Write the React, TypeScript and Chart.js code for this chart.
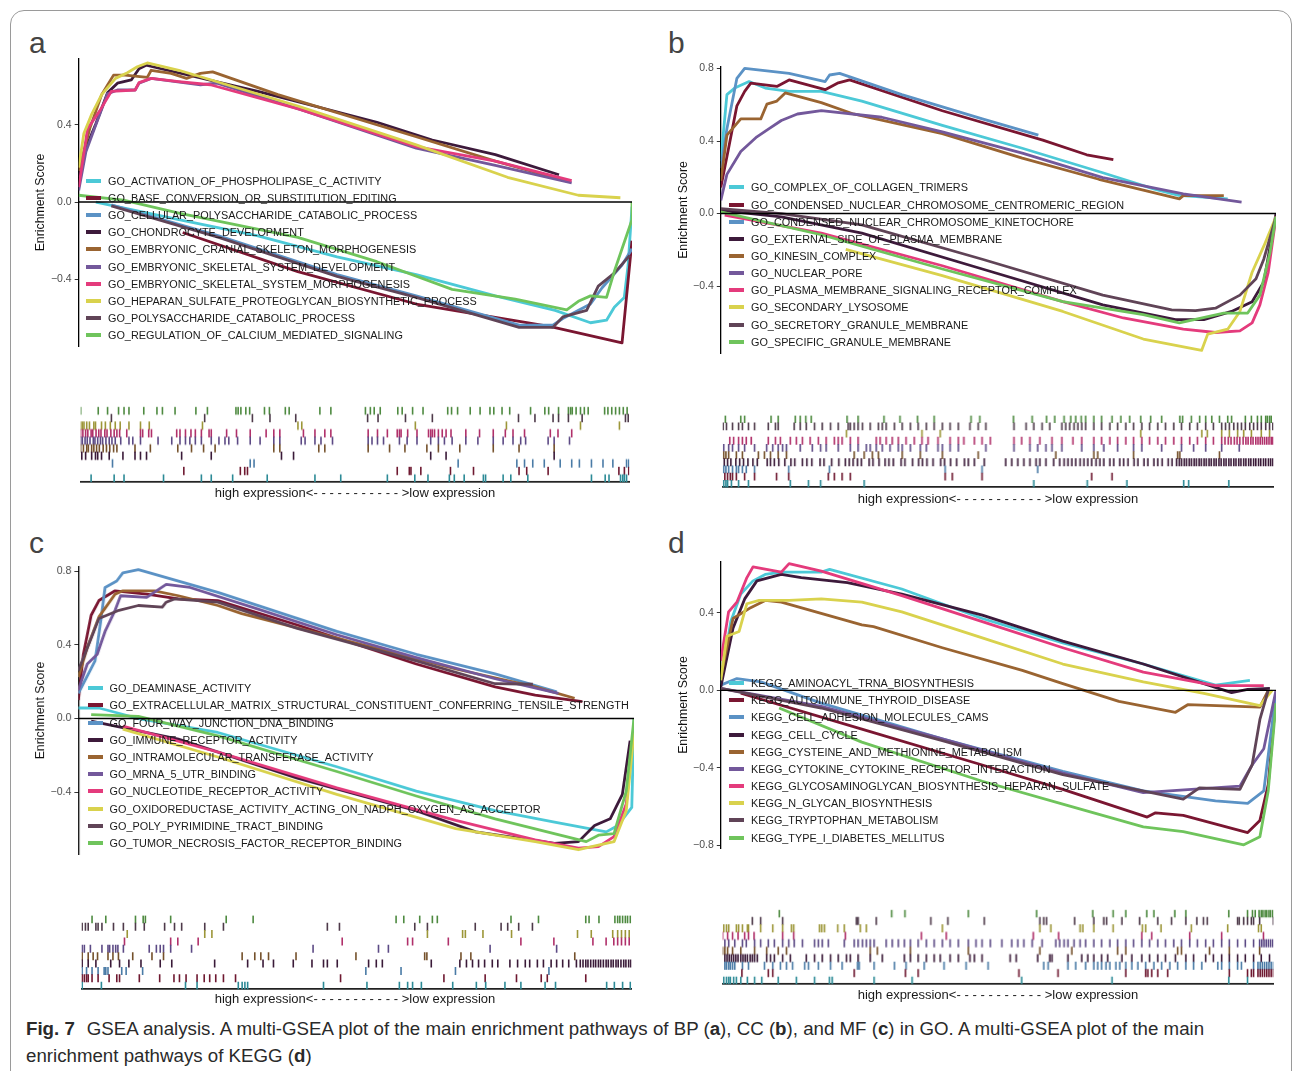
import React, { useEffect, useRef } from 'react';
import { Chart, registerables } from 'chart.js';
Chart.register(...registerables);

const FONT = "'Liberation Sans', Arial, Helvetica, sans-serif";

const LINE_COLORS = ['#4CC9D7', '#7A1631', '#5B92C5', '#3D1A3B', '#9A6431', '#73589B', '#E43B7C', '#D9D24D', '#604457', '#6FC45C'];
const RUG_COLORS = ['#2C8A96', '#6E1830', '#4A7BA6', '#3A1A38', '#74502A', '#5C4A85', '#B0306A', '#9C9638', '#4E3A4A', '#4E8A40'];

// ---------------- Panel a (BP) ----------------
const A_NAMES = [
  'GO_ACTIVATION_OF_PHOSPHOLIPASE_C_ACTIVITY',
  'GO_BASE_CONVERSION_OR_SUBSTITUTION_EDITING',
  'GO_CELLULAR_POLYSACCHARIDE_CATABOLIC_PROCESS',
  'GO_CHONDROCYTE_DEVELOPMENT',
  'GO_EMBRYONIC_CRANIAL_SKELETON_MORPHOGENESIS',
  'GO_EMBRYONIC_SKELETAL_SYSTEM_DEVELOPMENT',
  'GO_EMBRYONIC_SKELETAL_SYSTEM_MORPHOGENESIS',
  'GO_HEPARAN_SULFATE_PROTEOGLYCAN_BIOSYNTHETIC_PROCESS',
  'GO_POLYSACCHARIDE_CATABOLIC_PROCESS',
  'GO_REGULATION_OF_CALCIUM_MEDIATED_SIGNALING',
];
const A_ACTIVATION = [[3.1, 0], [18.1, -0.091], [32.4, -0.175], [46.7, -0.284], [61.0, -0.376], [75.3, -0.486], [86.1, -0.561], [92.5, -0.625], [95.4, -0.612], [96.8, -0.545], [98.6, -0.494], [99.3, -0.326], [100, -0.024]];
const A_BASE = [[18.8, -0.158], [39.6, -0.36], [61.0, -0.528], [85.3, -0.645], [98.2, -0.729], [100, -0.2]];
const A_CELLULAR = [[5.9, -0.015], [25.3, -0.175], [46.7, -0.376], [61.0, -0.486], [79.6, -0.637], [85.7, -0.637], [87.5, -0.603], [92.5, -0.528], [94.6, -0.444], [98.2, -0.326], [100, -0.242]];
const A_CHONDRO = [[0, 0.128], [1.3, 0.279], [3.1, 0.405], [5.2, 0.565], [7.0, 0.615], [9.5, 0.632], [10.9, 0.69], [12.2, 0.708], [32.4, 0.573], [53.9, 0.413], [63.9, 0.321], [75.3, 0.245], [86.8, 0.141]];
const A_CRANIAL = [[0, 0.161], [2.0, 0.38], [4.15, 0.556], [6.3, 0.657], [8.4, 0.657], [12.4, 0.645], [13.1, 0.682], [16.7, 0.666], [19.5, 0.64], [22.0, 0.666], [24.2, 0.674], [36.0, 0.556], [61.0, 0.338], [75.3, 0.212], [88.6, 0.106]];
const A_SKEL_DEV = [[0, 0.06], [1.3, 0.26], [3.1, 0.4], [5.2, 0.56], [7.0, 0.58], [10.2, 0.58], [10.9, 0.615], [13.1, 0.64], [22.0, 0.607], [25.0, 0.615], [40.0, 0.48], [61.0, 0.279], [75.3, 0.19], [89.1, 0.099]];
const A_SKEL_MORPH = [[0, 0.077], [1.6, 0.38], [3.8, 0.472], [5.9, 0.573], [10.2, 0.58], [10.9, 0.618], [13.1, 0.64], [18.1, 0.623], [23.8, 0.607], [40.0, 0.48], [61.0, 0.287], [75.3, 0.212], [89.1, 0.111]];
const A_HEPARAN = [[0, 0.178], [0.93, 0.355], [2.36, 0.455], [4.15, 0.556], [6.65, 0.64], [8.8, 0.669], [10.6, 0.7], [12.4, 0.72], [18.1, 0.682], [39.6, 0.497], [61.0, 0.296], [77.5, 0.128], [90.3, 0.035], [97.9, 0.022]];
const A_POLYSACCH = [[5.9, -0.02], [25.3, -0.183], [46.7, -0.385], [61.0, -0.494], [79.6, -0.649], [85.7, -0.649], [87.5, -0.595], [91.8, -0.561], [93.9, -0.435], [96.8, -0.368], [99.6, -0.276]];
const A_CALCIUM = [[0, 0.035], [8.1, 0.01], [18.1, -0.057], [39.6, -0.183], [53.9, -0.309], [67.5, -0.452], [78.9, -0.503], [88.2, -0.558], [90.3, -0.514], [92.5, -0.486], [95.4, -0.494], [96.8, -0.36], [98.2, -0.242], [100, -0.091], [100, 0]];
const A_SERIES = [A_ACTIVATION, A_BASE, A_CELLULAR, A_CHONDRO, A_CRANIAL, A_SKEL_DEV, A_SKEL_MORPH, A_HEPARAN, A_POLYSACCH, A_CALCIUM];

const A_RUG = [
  [1.9, 6.1, 7.9, 15.1, 22.0, 23.8, 27.7, 34.0, 42.7, 47.4, 55.9, 60.9, 63.3, 67.2, 68.1, 69.9, 73.4, 73.8, 77.0, 78.4, 81.5, 93.1, 95.6, 96.3, 98.4, 98.8, 99.1, 99.5],
  [18.8, 29.1, 29.9, 30.4, 57.7, 59.9, 60.2, 62.0, 67.4, 71.6, 79.9, 81.3, 85.2, 98.1, 99.1, 99.9],
  [5.8, 30.9, 31.6, 68.8, 79.5, 80.9, 82.4, 84.5, 87.4, 89.5, 90.9, 93.1, 95.2, 97.0, 99.5, 99.9],
  [0.2, 0.9, 2.0, 2.7, 3.1, 3.8, 5.2, 7.7, 9.9, 10.9, 12.0, 18.4, 23.8, 36.6, 38.8, 63.8, 66.6, 86.3],
  [0, 0.5, 1.1, 1.4, 2.0, 2.4, 2.9, 3.4, 4.1, 4.7, 5.3, 6.0, 6.6, 9.9, 12.7, 17.7, 20.2, 22.4, 24.5, 35.2, 36.3, 43.4, 44.5, 52.4, 56.3, 59.1, 63.1, 65.2, 69.1, 75.2, 79.9, 86.3],
  [0, 0.3, 0.8, 1.2, 1.7, 2.3, 2.6, 3.1, 3.6, 4.0, 4.6, 5.2, 5.7, 6.3, 7.3, 8.8, 9.5, 10.9, 14.1, 16.6, 18.1, 19.1, 19.9, 20.9, 22.0, 23.8, 25.2, 26.3, 27.0, 28.6, 30.9, 32.7, 35.2, 36.3, 40.2, 40.9, 42.7, 43.8, 45.9, 52.4, 53.1, 54.1, 55.2, 58.1, 59.5, 61.3, 63.8, 65.2, 66.3, 67.7, 70.2, 72.4, 75.2, 77.0, 78.8, 80.2, 81.1, 85.2, 86.3, 89.1],
  [0, 0.4, 0.9, 1.3, 1.9, 2.2, 2.8, 3.3, 3.7, 4.4, 4.8, 5.5, 6.1, 6.6, 7.1, 8.4, 10.9, 11.3, 12.4, 12.9, 17.5, 18.1, 19.1, 20.1, 20.9, 22.0, 23.4, 23.8, 26.6, 28.4, 30.9, 33.8, 35.2, 36.3, 40.6, 42.7, 44.5, 45.6, 52.4, 54.1, 55.9, 57.7, 58.1, 58.4, 59.6, 61.3, 63.4, 63.8, 64.1, 64.5, 65.2, 65.9, 66.6, 67.5, 70.2, 72.7, 75.2, 77.4, 78.8, 80.9, 85.6, 87.0, 89.5],
  [0, 0.3, 0.6, 1.1, 1.6, 2.4, 2.7, 3.8, 4.5, 5.4, 6.3, 7.2, 8.8, 10.9, 12.5, 22.2, 39.6, 40.3, 61.0, 77.6, 91.1, 98.2],
  [5.6, 22.6, 31.3, 34.5, 39.2, 52.3, 54.2, 59.2, 64.1, 79.8, 82.8, 86.1, 87.1, 88.9, 91.4, 99.3, 99.8],
  [0, 3.2, 4.9, 6.9, 7.9, 8.8, 11.5, 13.9, 14.9, 17.2, 21.0, 23.1, 28.3, 28.7, 29.2, 30.1, 30.8, 33.5, 34.4, 37.3, 38.0, 43.6, 45.6, 51.9, 52.8, 53.5, 54.6, 57.8, 58.6, 60.5, 62.4, 66.9, 67.6, 68.7, 71.0, 72.8, 74.6, 75.3, 76.8, 78.2, 82.0, 84.6, 85.3, 87.1, 88.9, 89.3, 89.6, 90.3, 91.1, 91.8, 92.5, 95.5, 96.1, 96.8, 97.5, 98.2, 98.9, 99.6],
];

// ---------------- Panel b (CC) ----------------
const B_NAMES = [
  'GO_COMPLEX_OF_COLLAGEN_TRIMERS',
  'GO_CONDENSED_NUCLEAR_CHROMOSOME_CENTROMERIC_REGION',
  'GO_CONDENSED_NUCLEAR_CHROMOSOME_KINETOCHORE',
  'GO_EXTERNAL_SIDE_OF_PLASMA_MEMBRANE',
  'GO_KINESIN_COMPLEX',
  'GO_NUCLEAR_PORE',
  'GO_PLASMA_MEMBRANE_SIGNALING_RECEPTOR_COMPLEX',
  'GO_SECONDARY_LYSOSOME',
  'GO_SECRETORY_GRANULE_MEMBRANE',
  'GO_SPECIFIC_GRANULE_MEMBRANE',
];
const B_COLLAGEN = [[0, 0.288], [1.1, 0.656], [2.5, 0.692], [5.1, 0.728], [8.0, 0.692], [12.3, 0.674], [18.1, 0.674], [25.4, 0.62], [39.9, 0.486], [54.3, 0.36], [68.8, 0.225], [78.1, 0.135], [82.5, 0.1], [91.3, 0.081]];
const B_CENTROMERIC = [[0, 0.144], [1.4, 0.36], [2.9, 0.594], [4.3, 0.674], [5.4, 0.719], [10.1, 0.701], [12.3, 0.737], [18.8, 0.683], [21.0, 0.719], [23.2, 0.737], [39.9, 0.567], [58.0, 0.405], [65.9, 0.324], [70.7, 0.297]];
const B_KINETOCHORE = [[0, 0.25], [1.1, 0.468], [2.9, 0.746], [4.3, 0.8], [12.3, 0.773], [18.8, 0.728], [19.6, 0.764], [21.4, 0.773], [32.6, 0.656], [47.1, 0.522], [57.2, 0.432]];
const B_EXTERNAL = [[0, 0.018], [10.9, -0.018], [25.4, -0.108], [47.1, -0.306], [68.8, -0.504], [81.9, -0.585], [87.0, -0.585], [92.0, -0.54], [95.7, -0.486], [97.8, -0.378], [100, 0]];
const B_KINESIN = [[0, 0.18], [1.1, 0.432], [3.6, 0.522], [7.2, 0.522], [8.3, 0.603], [10.1, 0.62], [11.6, 0.665], [18.1, 0.612], [23.9, 0.549], [39.9, 0.441], [54.3, 0.306], [68.1, 0.189], [82.6, 0.081], [83.3, 0.099], [90.6, 0.099]];
const B_PORE = [[0, 0.072], [1.1, 0.216], [3.6, 0.342], [6.5, 0.423], [8.7, 0.468], [10.9, 0.513], [13.8, 0.549], [18.1, 0.567], [29.0, 0.531], [39.9, 0.45], [54.3, 0.333], [68.8, 0.198], [83.3, 0.108], [93.8, 0.063]];
const B_PLASMA = [[0.7, -0.009], [18.1, -0.108], [39.9, -0.288], [61.6, -0.486], [72.5, -0.576], [83.3, -0.638], [89.1, -0.656], [93.5, -0.647], [95.7, -0.603], [97.1, -0.504], [98.6, -0.324], [100, -0.018]];
const B_LYSOSOME = [[22.5, -0.198], [39.9, -0.342], [61.6, -0.54], [76.1, -0.692], [86.6, -0.755], [87.7, -0.665], [91.3, -0.638], [93.5, -0.54], [95.7, -0.324], [97.8, -0.18], [100, -0.018]];
const B_SECRETORY = [[0, 0.027], [10.9, 0], [25.4, -0.063], [47.1, -0.252], [68.8, -0.45], [81.2, -0.531], [85.5, -0.536], [89.1, -0.522], [93.5, -0.45], [96.4, -0.36], [97.8, -0.252], [100, -0.018]];
const B_SPECIFIC = [[0, 0.009], [18.1, -0.117], [39.9, -0.306], [61.6, -0.486], [76.1, -0.558], [82.6, -0.603], [90.6, -0.549], [94.9, -0.549], [97.1, -0.45], [98.9, -0.216], [100, -0.018]];
const B_SERIES = [B_COLLAGEN, B_CENTROMERIC, B_KINETOCHORE, B_EXTERNAL, B_KINESIN, B_PORE, B_PLASMA, B_LYSOSOME, B_SECRETORY, B_SPECIFIC];

const B_RUG = [
  [0.2, 0.6, 0.9, 1.6, 2.9, 4.7, 12.3, 15.6, 17.8, 25.7, 56.5, 66.2, 73.4, 83.7, 84.6, 91.9],
  [0.4, 0.9, 1.4, 1.8, 2.5, 4.0, 5.8, 9.8, 12.0, 19.2, 20.3, 21.7, 23.2, 40.4, 41.7, 47.1, 67.0, 70.7],
  [0.2, 0.6, 1.1, 1.8, 2.5, 2.9, 3.6, 4.3, 5.8, 12.0, 19.4, 40.4, 47.1, 57.2],
  [0.3, 0.9, 1.5, 2.4, 3.1, 3.8, 4.6, 5.5, 6.3, 8.1, 8.7, 9.4, 10.2, 11.3, 12.4, 13.1, 14.5, 15.3, 16.2, 17.7, 18.4, 19.8, 21.1, 22.3, 23.0, 23.7, 24.5, 25.2, 26.6, 27.3, 28.4, 29.5, 30.2, 31.0, 32.4, 33.1, 34.5, 35.6, 36.3, 37.1, 38.2, 39.6, 40.3, 41.4, 42.5, 43.9, 44.6, 45.7, 47.5, 51.4, 52.5, 53.6, 54.7, 55.8, 56.9, 57.6, 58.7, 60.1, 61.2, 62.0, 62.7, 63.4, 64.1, 64.9, 65.6, 66.3, 67.0, 67.8, 68.5, 69.2, 70.3, 71.0, 72.1, 72.8, 73.6, 74.7, 75.4, 76.5, 77.2, 78.3, 79.0, 79.8, 80.9, 81.6, 82.4, 82.9, 83.3, 83.8, 84.2, 84.7, 85.1, 85.6, 86.0, 86.5, 86.9, 87.4, 87.8, 88.3, 88.7, 89.2, 89.6, 90.1, 90.5, 91.0, 91.4, 91.9, 92.3, 92.8, 93.2, 93.7, 94.1, 94.6, 95.0, 95.5, 95.9, 96.4, 96.8, 97.3, 97.7, 98.2, 98.6, 99.1, 99.5, 99.9],
  [0.2, 0.6, 1.1, 2.5, 3.6, 6.5, 7.6, 8.7, 10.1, 11.6, 23.9, 25.7, 27.2, 28.3, 32.6, 35.9, 39.9, 46.4, 60.5, 67.4, 68.1, 74.6, 82.6, 83.0, 90.2],
  [0.2, 1.1, 1.8, 2.9, 4.0, 5.8, 8.0, 9.1, 10.1, 10.9, 11.6, 14.1, 16.3, 17.8, 18.8, 21.0, 23.2, 24.6, 26.1, 26.8, 27.9, 29.0, 30.4, 31.9, 32.6, 34.1, 35.9, 37.0, 39.1, 39.9, 41.3, 42.8, 47.8, 52.9, 55.8, 57.2, 58.7, 59.8, 61.6, 65.2, 67.4, 69.2, 71.7, 74.6, 76.1, 79.7, 83.3, 85.5, 87.7, 90.6, 93.8],
  [1.3, 2.0, 2.9, 3.6, 4.3, 5.2, 8.3, 9.6, 10.5, 12.3, 13.4, 14.5, 15.9, 17.4, 18.8, 20.3, 21.0, 21.7, 23.2, 24.6, 27.9, 28.6, 29.7, 30.8, 31.9, 33.3, 34.8, 36.2, 37.3, 39.1, 41.3, 42.8, 43.8, 45.7, 47.1, 48.6, 52.9, 54.3, 55.8, 57.6, 59.8, 61.6, 63.6, 65.2, 67.4, 68.8, 70.3, 71.7, 73.2, 74.6, 76.1, 77.5, 79.0, 80.4, 81.9, 83.3, 84.8, 86.2, 87.7, 89.1, 90.6, 91.2, 91.8, 92.3, 92.9, 93.4, 93.9, 94.5, 95.0, 95.4, 95.9, 96.3, 96.8, 97.2, 97.6, 98.0, 98.4, 98.8, 99.2, 99.6, 99.9],
  [22.5, 36.2, 39.5, 75.9, 87.0, 88.0, 90.6, 92.0, 93.5, 94.6, 96.0, 97.8, 99.3],
  [0.1, 0.7, 1.8, 2.9, 3.6, 4.7, 5.8, 8.3, 9.6, 10.1, 13.0, 14.1, 15.2, 16.7, 18.1, 19.6, 21.0, 22.8, 23.2, 23.9, 24.6, 25.4, 26.8, 28.3, 29.0, 29.7, 31.2, 32.6, 34.1, 35.5, 37.0, 38.4, 39.9, 41.3, 42.8, 44.9, 46.4, 47.8, 52.9, 55.1, 56.5, 58.0, 59.4, 61.6, 62.3, 63.0, 63.8, 64.5, 65.2, 65.9, 67.4, 68.8, 70.3, 71.7, 73.2, 74.6, 76.1, 77.5, 79.0, 80.4, 81.9, 83.3, 84.8, 86.2, 87.7, 89.1, 90.6, 91.3, 92.0, 92.8, 93.5, 94.2, 94.9, 95.7, 96.4, 97.1, 97.8, 98.6, 99.3, 99.9],
  [0.5, 3.3, 4.0, 8.8, 10.1, 13.2, 14.1, 15.1, 16.1, 22.6, 24.6, 29.3, 32.2, 35.4, 38.4, 45.1, 46.7, 52.8, 56.2, 58.8, 60.3, 62.0, 63.2, 64.1, 65.1, 65.9, 67.4, 68.8, 70.7, 72.3, 73.9, 75.9, 77.7, 79.7, 83.0, 83.5, 85.1, 86.6, 87.7, 88.8, 90.2, 91.7, 92.4, 94.9, 96.0, 97.1, 97.8, 98.6, 98.9, 99.3, 99.6],
];

// ---------------- Panel c (MF) ----------------
const C_NAMES = [
  'GO_DEAMINASE_ACTIVITY',
  'GO_EXTRACELLULAR_MATRIX_STRUCTURAL_CONSTITUENT_CONFERRING_TENSILE_STRENGTH',
  'GO_FOUR_WAY_JUNCTION_DNA_BINDING',
  'GO_IMMUNE_RECEPTOR_ACTIVITY',
  'GO_INTRAMOLECULAR_TRANSFERASE_ACTIVITY',
  'GO_MRNA_5_UTR_BINDING',
  'GO_NUCLEOTIDE_RECEPTOR_ACTIVITY',
  'GO_OXIDOREDUCTASE_ACTIVITY_ACTING_ON_NADPH_OXYGEN_AS_ACCEPTOR',
  'GO_POLY_PYRIMIDINE_TRACT_BINDING',
  'GO_TUMOR_NECROSIS_FACTOR_RECEPTOR_BINDING',
];
const C_DEAMINASE = [[0, 0.057], [3.7, 0.057], [10.8, 0], [25.1, -0.076], [46.5, -0.262], [60.8, -0.395], [75.0, -0.501], [85.7, -0.563], [95.0, -0.616], [97.1, -0.581], [99.6, -0.483], [100, 0]];
const C_ECM = [[0, 0.1], [0.9, 0.349], [2.3, 0.561], [3.7, 0.641], [6.6, 0.694], [12.3, 0.676], [18.0, 0.65], [25.1, 0.641], [39.4, 0.508], [60.8, 0.296], [75.0, 0.172], [82.2, 0.127], [90.7, 0.092]];
const C_FOURWAY = [[0, 0.136], [3.0, 0.313], [4.1, 0.543], [4.8, 0.712], [6.9, 0.747], [8.0, 0.791], [10.8, 0.809], [25.1, 0.685], [46.5, 0.473], [60.8, 0.349], [75.0, 0.242], [86.1, 0.145]];
const C_IMMUNE = [[2.3, -0.014], [18.0, -0.112], [39.4, -0.324], [60.8, -0.501], [71.5, -0.616], [85.7, -0.678], [90.0, -0.669], [92.9, -0.581], [95.7, -0.545], [97.9, -0.412], [99.3, -0.12]];
const C_INTRAMOL = [[0, 0.225], [1.6, 0.384], [3.7, 0.552], [6.6, 0.676], [8.0, 0.694], [13.7, 0.694], [18.0, 0.667], [25.1, 0.614], [29.4, 0.57], [46.5, 0.437], [67.9, 0.269], [82.2, 0.172], [89.3, 0.11]];
const C_MRNA = [[0, 0.154], [1.6, 0.296], [3.4, 0.349], [4.8, 0.473], [6.6, 0.588], [7.6, 0.667], [12.3, 0.658], [15.8, 0.729], [20.1, 0.712], [32.2, 0.596], [46.5, 0.455], [60.8, 0.331], [75.0, 0.216], [86.4, 0.136]];
const C_NUCLEOTIDE = [[8.0, -0.041], [25.1, -0.182], [46.5, -0.377], [67.9, -0.554], [82.2, -0.66], [90.0, -0.704], [93.6, -0.696], [96.4, -0.642], [98.6, -0.465], [100, -0.041]];
const C_OXIDO = [[8.0, -0.058], [25.1, -0.209], [46.5, -0.412], [67.9, -0.598], [82.2, -0.669], [90.0, -0.713], [96.4, -0.669], [98.6, -0.501], [100, -0.076]];
const C_POLYPYR = [[0, 0.26], [3.7, 0.543], [7.3, 0.588], [10.8, 0.614], [15.1, 0.605], [15.8, 0.632], [17.3, 0.65], [25.1, 0.632], [39.4, 0.49], [60.8, 0.313], [75.0, 0.189], [81.8, 0.186]];
const C_TNF = [[2.3, 0.021], [10.8, 0.012], [25.1, -0.094], [46.5, -0.288], [60.8, -0.421], [75.0, -0.545], [91.4, -0.669], [93.6, -0.634], [96.4, -0.625], [98.6, -0.395], [100, 0]];
const C_SERIES = [C_DEAMINASE, C_ECM, C_FOURWAY, C_IMMUNE, C_INTRAMOL, C_MRNA, C_NUCLEOTIDE, C_OXIDO, C_POLYPYR, C_TNF];

const C_RUG = [
  [0.1, 3.6, 18.9, 21.0, 28.5, 29.2, 29.7, 30.2, 44.0, 51.9, 57.8, 59.3, 60.2, 61.8, 67.5, 71.8, 73.5, 77.0, 79.9, 84.3, 86.2, 95.5, 96.9, 98.4, 99.8],
  [0.1, 0.5, 0.9, 1.2, 1.9, 3.0, 5.0, 6.4, 6.9, 10.5, 14.2, 16.8, 17.8, 19.0, 21.0, 22.3, 23.3, 24.4, 25.8, 28.0, 47.1, 65.9, 73.4, 79.1, 83.6, 84.7, 91.7],
  [0.1, 0.9, 1.9, 3.0, 4.1, 4.4, 4.8, 7.3, 8.1, 11.1, 51.7, 58.1, 68.0, 85.0],
  [0.1, 1.2, 2.6, 5.3, 6.9, 8.6, 10.8, 14.3, 16.4, 24.2, 30.2, 33.0, 34.9, 38.5, 41.9, 44.0, 44.7, 46.5, 52.2, 53.6, 54.7, 63.6, 68.8, 70.0, 71.1, 72.2, 73.3, 74.7, 75.7, 77.9, 79.3, 80.7, 81.5, 82.9, 84.0, 85.4, 86.4, 87.5, 88.6, 90.0, 90.7, 91.2, 91.7, 92.1, 92.6, 93.1, 93.5, 94.0, 94.4, 94.9, 95.4, 95.8, 96.3, 96.7, 97.2, 97.6, 98.1, 98.6, 99.0, 99.5, 99.9],
  [0.1, 1.2, 2.1, 2.9, 4.8, 5.7, 6.7, 9.3, 12.8, 14.9, 29.2, 31.5, 32.6, 34.0, 39.0, 49.9, 62.4, 62.8, 69.0, 70.8, 89.7],
  [0.1, 0.5, 1.6, 3.7, 4.8, 5.1, 5.7, 6.2, 6.6, 7.6, 12.3, 13.6, 14.3, 14.9, 16.2, 20.0, 42.1, 54.0, 55.8, 74.3, 86.4],
  [7.8, 16.2, 17.5, 21.2, 47.4, 59.3, 60.2, 66.7, 79.9, 85.9, 93.0, 95.4, 96.8, 97.5, 98.2, 98.9, 99.6],
  [8.3, 22.4, 23.7, 62.9, 69.3, 69.8, 73.0, 78.2, 90.2, 92.7, 96.6, 97.5, 98.2, 98.9, 99.6],
  [0.1, 0.7, 1.2, 2.6, 3.0, 3.7, 5.8, 7.6, 9.8, 11.4, 15.1, 16.9, 18.2, 22.4, 25.8, 44.7, 46.9, 60.6, 62.9, 71.6, 76.3, 77.5, 79.5, 82.0],
  [1.9, 4.4, 9.8, 11.2, 11.6, 16.2, 26.3, 31.2, 57.2, 58.6, 61.5, 63.8, 64.7, 78.1, 83.1, 91.7, 92.3, 94.1, 97.0, 97.5, 97.9, 98.4, 98.9, 99.3, 99.8],
];

// ---------------- Panel d (KEGG) ----------------
const D_NAMES = [
  'KEGG_AMINOACYL_TRNA_BIOSYNTHESIS',
  'KEGG_AUTOIMMUNE_THYROID_DISEASE',
  'KEGG_CELL_ADHESION_MOLECULES_CAMS',
  'KEGG_CELL_CYCLE',
  'KEGG_CYSTEINE_AND_METHIONINE_METABOLISM',
  'KEGG_CYTOKINE_CYTOKINE_RECEPTOR_INTERACTION',
  'KEGG_GLYCOSAMINOGLYCAN_BIOSYNTHESIS_HEPARAN_SULFATE',
  'KEGG_N_GLYCAN_BIOSYNTHESIS',
  'KEGG_TRYPTOPHAN_METABOLISM',
  'KEGG_TYPE_I_DIABETES_MELLITUS',
];
const D_AMINOACYL = [[0, 0.035], [1.8, 0.355], [3.6, 0.497], [5.8, 0.565], [8.0, 0.598], [10.9, 0.61], [18.1, 0.61], [19.6, 0.624], [32.6, 0.523], [47.1, 0.371], [61.6, 0.245], [76.1, 0.136], [89.1, 0.027], [95.3, 0.052]];
const D_AUTOIMMUNE = [[3.6, -0.015], [25.4, -0.2], [47.1, -0.385], [61.6, -0.511], [76.8, -0.654], [78.3, -0.632], [83.3, -0.645], [94.9, -0.734], [97.1, -0.671], [98.6, -0.486], [100, -0.032]];
const D_CAMS = [[0, 0.027], [2.9, 0.061], [7.2, 0.044], [18.1, -0.066], [39.9, -0.25], [61.6, -0.418], [76.1, -0.519], [89.1, -0.57], [94.9, -0.583], [97.8, -0.519], [100, -0.015]];
const D_CELLCYCLE = [[0, 0.018], [2.2, 0.321], [4.3, 0.472], [6.5, 0.565], [8.7, 0.582], [10.9, 0.598], [14.5, 0.582], [22.8, 0.556], [32.6, 0.497], [47.1, 0.388], [61.6, 0.254], [76.1, 0.136], [87.0, 0.035], [92.0, -0.012], [94.9, 0.005], [98.9, 0.01]];
const D_CYSTEINE = [[0, 0.069], [2.2, 0.371], [5.1, 0.422], [8.0, 0.464], [10.9, 0.455], [25.4, 0.338], [27.5, 0.329], [39.9, 0.22], [54.3, 0.103], [61.6, 0.035], [71.7, -0.057], [81.9, -0.113], [84.1, -0.074], [97.1, -0.086], [98.6, 0]];
const D_CYTOKINE = [[0, 0.01], [18.1, -0.082], [39.9, -0.25], [61.6, -0.427], [76.1, -0.528], [93.5, -0.494], [95.7, -0.385], [97.8, -0.301], [100, 0]];
const D_GAG = [[0, 0.153], [1.4, 0.405], [2.9, 0.455], [4.7, 0.582], [5.8, 0.637], [10.9, 0.61], [12.3, 0.654], [18.1, 0.615], [32.6, 0.489], [47.1, 0.355], [61.6, 0.22], [76.1, 0.094], [89.1, 0.024], [97.8, 0.024]];
const D_NGLYCAN = [[0, 0.052], [1.1, 0.279], [3.3, 0.304], [4.7, 0.447], [6.9, 0.464], [12.3, 0.464], [18.1, 0.472], [25.4, 0.455], [32.6, 0.405], [47.1, 0.271], [61.6, 0.136], [76.1, 0.044], [87.0, -0.015], [97.1, -0.079], [99.3, 0]];
const D_TRYPTOPHAN = [[0, 0.01], [18.1, -0.091], [39.9, -0.259], [61.6, -0.435], [83.3, -0.561], [86.2, -0.503], [93.5, -0.511], [95.7, -0.385], [97.1, -0.15], [98.6, 0]];
const D_T1D = [[10.5, -0.091], [25.4, -0.267], [47.1, -0.469], [61.6, -0.587], [76.1, -0.704], [83.3, -0.729], [94.2, -0.797], [97.1, -0.755], [98.6, -0.519], [100, -0.066]];
const D_SERIES = [D_AMINOACYL, D_AUTOIMMUNE, D_CAMS, D_CELLCYCLE, D_CYSTEINE, D_CYTOKINE, D_GAG, D_NGLYCAN, D_TRYPTOPHAN, D_T1D];

const D_RUG = [
  [0.2, 0.7, 1.1, 1.4, 2.0, 2.5, 3.3, 4.5, 5.8, 7.1, 10.1, 13.4, 16.7, 19.4, 19.9, 27.5, 34.4, 54.3, 70.7, 91.9, 95.3],
  [3.5, 8.3, 9.1, 23.9, 33.2, 35.5, 53.8, 60.9, 73.2, 76.8, 77.2, 77.9, 79.0, 80.8, 92.0, 95.3, 96.0, 96.4, 97.2, 97.6, 98.0, 98.4, 98.8, 99.2, 99.6, 100],
  [0.4, 0.7, 1.1, 1.4, 1.8, 2.2, 3.6, 4.7, 7.6, 9.1, 10.5, 11.6, 12.7, 14.9, 15.6, 17.4, 19.6, 21.7, 24.5, 24.8, 27.5, 31.2, 33.3, 36.6, 40.2, 44.2, 48.2, 58.3, 59.1, 62.7, 64.1, 65.9, 67.4, 68.1, 68.8, 69.6, 70.3, 71.4, 72.1, 73.2, 74.3, 75.4, 76.8, 78.3, 79.7, 81.2, 82.6, 84.1, 85.5, 87.0, 89.9, 90.6, 92.0, 93.5, 94.2, 96.4, 97.2, 97.6, 98.0, 98.4, 98.8, 99.2, 99.6, 100],
  [0.4, 0.8, 1.2, 1.6, 2.0, 2.4, 2.8, 3.3, 3.7, 4.1, 4.5, 5.0, 5.4, 5.8, 6.3, 8.0, 8.7, 9.4, 10.9, 12.3, 15.2, 16.7, 18.1, 19.6, 21.0, 22.5, 23.2, 24.6, 26.8, 29.0, 33.0, 34.1, 35.5, 37.0, 38.4, 39.5, 41.3, 42.8, 44.9, 45.7, 47.1, 52.2, 53.3, 57.2, 59.4, 59.8, 62.7, 65.2, 66.3, 67.4, 68.8, 69.9, 72.5, 74.3, 76.1, 77.5, 79.0, 80.4, 82.2, 84.1, 85.5, 87.7, 89.1, 90.6, 92.0, 93.5, 94.9, 96.4, 97.8, 99.3],
  [0, 0.4, 0.9, 1.8, 3.3, 5.8, 8.0, 10.1, 11.6, 26.8, 28.1, 34.1, 44.6, 57.6, 63.4, 71.7, 73.2, 82.6, 83.3, 88.4, 92.0, 97.5],
  [0.4, 1.1, 2.2, 3.6, 4.3, 5.8, 6.9, 8.3, 9.4, 10.9, 12.0, 13.0, 14.5, 16.7, 17.4, 18.1, 19.2, 22.1, 23.9, 24.6, 25.4, 26.1, 26.8, 27.5, 29.7, 30.8, 31.9, 33.0, 34.1, 35.5, 37.0, 38.4, 39.9, 41.3, 42.8, 44.6, 46.0, 47.1, 48.6, 50.7, 52.5, 53.6, 54.7, 56.2, 58.0, 60.5, 61.2, 62.0, 62.7, 63.8, 64.9, 65.9, 67.4, 68.8, 70.3, 71.7, 73.2, 74.6, 76.1, 77.5, 79.0, 80.4, 81.9, 83.3, 84.8, 86.2, 87.7, 89.1, 90.6, 92.0, 93.5, 94.9, 96.4, 97.5, 97.9, 98.3, 98.7, 99.1, 99.5, 99.9],
  [0, 0.9, 1.8, 2.8, 4.0, 4.7, 5.7, 10.9, 12.9, 22.3, 36.1, 40.6, 56.4, 61.0, 76.1, 77.9, 84.8, 90.6, 98.2],
  [0.2, 0.7, 1.1, 2.5, 2.9, 3.6, 4.5, 4.7, 6.9, 9.1, 10.9, 12.5, 12.9, 17.6, 18.0, 18.5, 20.9, 22.1, 25.0, 26.1, 39.9, 57.6, 59.6, 64.9, 65.4, 67.4, 70.9, 76.2, 76.8, 79.6, 85.1, 91.7, 97.3, 97.8],
  [5.4, 6.9, 10.9, 24.3, 24.6, 27.9, 37.8, 40.9, 47.5, 57.6, 58.3, 58.8, 63.9, 67.4, 69.2, 69.7, 72.5, 75.7, 79.0, 81.5, 84.1, 86.1, 87.3, 88.0, 93.5, 93.8, 94.6, 95.3, 96.0, 96.4, 97.5, 100],
  [10.3, 30.7, 33.1, 44.6, 57.0, 67.2, 70.9, 73.2, 77.0, 78.3, 82.1, 84.1, 91.9, 95.3, 96.2, 96.7, 97.4, 97.8, 98.1, 98.5, 98.8, 99.2, 99.5, 99.9],
];

// ---------------- layout (page pixels) ----------------
type Geo = {
  letter: string; letterX: number; letterTop: number;
  canvasLeft: number; plotL: number; plotR: number; plotT: number; plotB: number;
  yMin: number; yMax: number;
  legendY: number[]; swatchX: number; textX: number;
  rugTop: number; rugAxis: number; labelCx: number; labelCy: number;
};

const GEOS: Geo[] = [
  { letter: 'a', letterX: 29, letterTop: 27.5, canvasLeft: 28.6, plotL: 78.3, plotR: 632.4, plotT: 55, plotB: 350, yMin: -0.749, yMax: 0.744,
    legendY: [181, 198, 215, 232, 249, 266.5, 284, 301, 318, 335], swatchX: 86, textX: 108,
    rugTop: 403.3, rugAxis: 485, labelCx: 355, labelCy: 494 },
  { letter: 'b', letterX: 668, letterTop: 27.5, canvasLeft: 671.6, plotL: 720.4, plotR: 1276, plotT: 62.7, plotB: 356.7, yMin: -0.773, yMax: 0.812,
    legendY: [187, 205, 222, 239, 256, 273.3, 290, 307.3, 324.7, 342], swatchX: 729, textX: 751,
    rugTop: 411.7, rugAxis: 490, labelCx: 998, labelCy: 499.3 },
  { letter: 'c', letterX: 29, letterTop: 527.5, canvasLeft: 29.4, plotL: 78.7, plotR: 634.3, plotT: 563.3, plotB: 858.3, yMin: -0.74, yMax: 0.827,
    legendY: [687.7, 705, 722.7, 740, 757, 774, 791, 808.7, 825.7, 842.7], swatchX: 87.5, textX: 109.6,
    rugTop: 911.7, rugAxis: 991.7, labelCx: 355, labelCy: 1000 },
  { letter: 'd', letterX: 668, letterTop: 527.5, canvasLeft: 671.6, plotL: 720.4, plotR: 1276, plotT: 558.3, plotB: 852.3, yMin: -0.817, yMax: 0.666,
    legendY: [683, 700, 717.3, 734.7, 751.7, 768.7, 785.7, 803, 820, 837.7], swatchX: 729, textX: 751,
    rugTop: 906, rugAxis: 986.7, labelCx: 998, labelCy: 996 },
];

const PANELS = [
  { names: A_NAMES, series: A_SERIES, rug: A_RUG },
  { names: B_NAMES, series: B_SERIES, rug: B_RUG },
  { names: C_NAMES, series: C_SERIES, rug: C_RUG },
  { names: D_NAMES, series: D_SERIES, rug: D_RUG },
];

const ZERO_LINE = [[0, 0], [100, 0]];

function fmtTick(v: number) {
  const r = Math.round(v * 10) / 10;
  if (r === 0) return '0.0';
  return (r < 0 ? '\u2212' : '') + Math.abs(r).toFixed(1);
}

function EsChart({ g, series }: { g: Geo; series: number[][][] }) {
  const ref = useRef<HTMLCanvasElement>(null);
  const top = g.plotT - 6;
  const height = g.plotB - g.plotT + 12;
  const width = g.plotR - g.canvasLeft + 5;
  useEffect(() => {
    const yAxisWidth = g.plotL - g.canvasLeft;
    const datasets: any[] = [
      { data: ZERO_LINE.map(([x, y]) => ({ x, y })), borderColor: '#000', borderWidth: 1.4, pointRadius: 0, order: 0 },
      ...series.map((s, i) => ({
        data: s.map(([x, y]) => ({ x, y })),
        borderColor: LINE_COLORS[i], borderWidth: 2.8, pointRadius: 0, tension: 0, order: 20 - i,
        borderJoinStyle: 'round', borderCapStyle: 'butt',
      })),
    ];
    const chart = new Chart(ref.current!, {
      type: 'line',
      data: { datasets },
      options: {
        responsive: false, animation: false, events: [],
        layout: { padding: { left: 0, right: 5, top: 6, bottom: 6 } },
        plugins: { legend: { display: false }, tooltip: { enabled: false } },
        scales: {
          x: { type: 'linear', min: 0, max: 100, display: false },
          y: {
            type: 'linear', min: g.yMin, max: g.yMax,
            afterFit: (s: any) => { s.width = yAxisWidth; },
            ticks: { stepSize: 0.4, includeBounds: false, color: '#4d4d4d', font: { family: FONT, size: 10.5 }, padding: 3, callback: (v: any) => fmtTick(Number(v)) },
            grid: { display: true, drawOnChartArea: false, drawTicks: true, tickLength: 4, color: '#333', lineWidth: 1 },
            border: { display: true, color: '#000', width: 1.3 },
            title: { display: true, text: 'Enrichment Score', color: '#111', font: { family: FONT, size: 12.3 }, padding: { top: 4, bottom: 0 } },
          },
        },
      } as any,
    });
    return () => chart.destroy();
  }, []);
  return <canvas ref={ref} width={width} height={height} style={{ position: 'absolute', left: g.canvasLeft, top, width, height }} />;
}

function RugChart({ g, rug }: { g: Geo; rug: number[][] }) {
  const ref = useRef<HTMLCanvasElement>(null);
  const left = g.plotL - 3;
  const top = g.rugTop - 2;
  const width = g.plotR - g.plotL + 6;
  const height = g.rugAxis - g.rugTop + 5;
  const rowH = (g.rugAxis - g.rugTop) / 10;
  useEffect(() => {
    const datasets: any[] = rug.map((row, i) => ({
      data: row.map((x) => ({ x, y: i + 0.5 })),
      showLine: false,
      pointStyle: 'line', pointRotation: 90, pointRadius: rowH / 2,
      borderColor: RUG_COLORS[i], pointBorderColor: RUG_COLORS[i], borderWidth: 1.6, pointBorderWidth: 1.6,
    }));
    const chart = new Chart(ref.current!, {
      type: 'scatter',
      data: { datasets },
      options: {
        responsive: false, animation: false, events: [],
        layout: { padding: { left: 3, right: 3, top: 2, bottom: 3 } },
        plugins: { legend: { display: false }, tooltip: { enabled: false } },
        scales: {
          x: { type: 'linear', min: 0, max: 100, afterFit: (s: any) => { s.height = 0; }, ticks: { display: false }, grid: { display: false }, border: { display: true, color: '#222', width: 1.8 } },
          y: { type: 'linear', min: 0, max: 10, display: false },
        },
      } as any,
    });
    return () => chart.destroy();
  }, []);
  return <canvas ref={ref} width={width} height={height} style={{ position: 'absolute', left, top, width, height }} />;
}

function Panel({ g, names, series, rug }: { g: Geo; names: string[]; series: number[][][]; rug: number[][] }) {
  return (
    <>
      <div style={{ position: 'absolute', left: g.letterX, top: g.letterTop, fontFamily: FONT, fontSize: 30, lineHeight: '30px', color: '#444' }}>{g.letter}</div>
      <EsChart g={g} series={series} />
      {names.map((n, i) => (
        <React.Fragment key={n}>
          <div style={{ position: 'absolute', left: g.swatchX, top: g.legendY[i] - 2, width: 15, height: 4, background: LINE_COLORS[i] }} />
          <div style={{ position: 'absolute', left: g.textX, top: g.legendY[i] - 5.9, fontFamily: FONT, fontSize: 10.85, lineHeight: '12px', color: '#1a1a1a', whiteSpace: 'nowrap' }}>{n}</div>
        </React.Fragment>
      ))}
      <RugChart g={g} rug={rug} />
      <div style={{ position: 'absolute', left: g.labelCx - 200, width: 400, top: g.labelCy - 8.6, textAlign: 'center', fontFamily: FONT, fontSize: 13, lineHeight: '15px', color: '#1a1a1a', whiteSpace: 'nowrap' }}>
        high expression&lt;<span style={{ letterSpacing: '3.7px' }}>-----------</span>&gt;low expression
      </div>
    </>
  );
}

export default function App() {
  return (
    <div style={{ position: 'absolute', left: 0, top: 0, width: 1295, height: 1071, overflow: 'hidden', background: '#fff' }}>
      <div style={{ position: 'absolute', left: 10, top: 10, width: 1282, height: 1080, border: '1px solid #9a9a9a', borderRadius: 14, boxSizing: 'border-box' }} />
      {GEOS.map((g, i) => (
        <Panel key={g.letter} g={g} names={PANELS[i].names} series={PANELS[i].series} rug={PANELS[i].rug} />
      ))}
      <div style={{ position: 'absolute', left: 26, top: 1015, fontFamily: FONT, fontSize: 18.7, lineHeight: '27px', color: '#2a2a2a', whiteSpace: 'nowrap' }}>
        <b style={{ marginRight: 12 }}>Fig. 7</b>GSEA analysis. A multi-GSEA plot of the main enrichment pathways of BP (<b>a</b>), CC (<b>b</b>), and MF (<b>c</b>) in GO. A multi-GSEA plot of the main
        <br />
        enrichment pathways of KEGG (<b>d</b>)
      </div>
    </div>
  );
}
